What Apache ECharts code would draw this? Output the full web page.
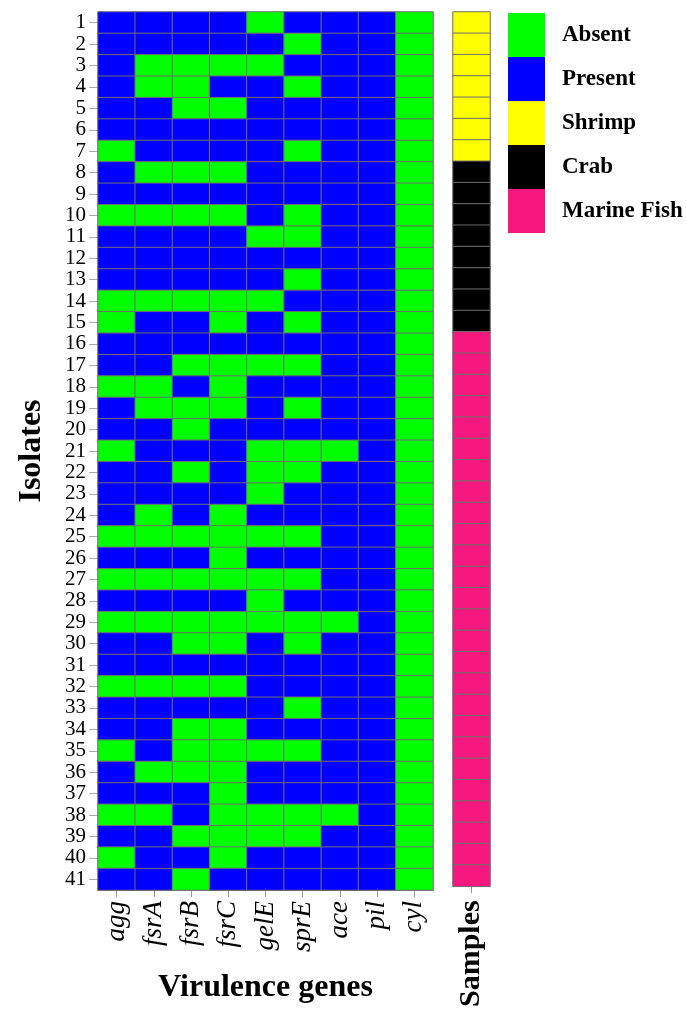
<!DOCTYPE html>
<html><head><meta charset="utf-8">
<script src="https://cdn.jsdelivr.net/npm/echarts@6/dist/echarts.min.js"></script>
<style>html,body{margin:0;padding:0;background:#fff}#c{width:687px;height:1010px}</style>
</head><body><div id="c"></div>
<script>
const genes = ['agg','fsrA','fsrB','fsrC','gelE','sprE','ace','pil','cyl'];
const isolates = ['1','2','3','4','5','6','7','8','9','10','11','12','13','14','15','16','17','18','19','20','21','22','23','24','25','26','27','28','29','30','31','32','33','34','35','36','37','38','39','40','41'];
// 1 = Present, 0 = Absent (isolates 1..41)
const agg  = [1,1,1,1,1,1,0,1,1,0,1,1,1,0,0,1,1,0,1,1,0,1,1,1,0,1,0,1,0,1,1,0,1,1,0,1,1,0,1,0,1];
const fsrA = [1,1,0,0,1,1,1,0,1,0,1,1,1,0,1,1,1,0,0,1,1,1,1,0,0,1,0,1,0,1,1,0,1,1,1,0,1,0,1,1,1];
const fsrB = [1,1,0,0,0,1,1,0,1,0,1,1,1,0,1,1,0,1,0,0,1,0,1,1,0,1,0,1,0,0,1,0,1,0,0,0,1,1,0,1,0];
const fsrC = [1,1,0,1,0,1,1,0,1,0,1,1,1,0,0,1,0,0,0,1,1,1,1,0,0,0,0,1,0,0,1,0,1,0,0,0,0,0,0,0,1];
const gelE = [0,1,0,1,1,1,1,1,1,1,0,1,1,0,1,1,0,1,1,1,0,0,0,1,0,1,0,0,0,1,1,1,1,1,0,1,1,0,0,1,1];
const sprE = [1,0,1,0,1,1,0,1,1,0,0,1,0,1,0,1,0,1,0,1,0,0,1,1,0,1,0,1,0,0,1,1,0,1,0,1,1,0,0,1,1];
const ace  = [1,1,1,1,1,1,1,1,1,1,1,1,1,1,1,1,1,1,1,1,0,1,1,1,1,1,1,1,0,1,1,1,1,1,1,1,1,0,1,1,1];
const pil  = [1,1,1,1,1,1,1,1,1,1,1,1,1,1,1,1,1,1,1,1,1,1,1,1,1,1,1,1,1,1,1,1,1,1,1,1,1,1,1,1,1];
const cyl  = [0,0,0,0,0,0,0,0,0,0,0,0,0,0,0,0,0,0,0,0,0,0,0,0,0,0,0,0,0,0,0,0,0,0,0,0,0,0,0,0,0];
const samples = ['Shrimp','Shrimp','Shrimp','Shrimp','Shrimp','Shrimp','Shrimp',
  'Crab','Crab','Crab','Crab','Crab','Crab','Crab','Crab',
  'Marine Fish','Marine Fish','Marine Fish','Marine Fish','Marine Fish','Marine Fish','Marine Fish','Marine Fish','Marine Fish','Marine Fish','Marine Fish','Marine Fish','Marine Fish','Marine Fish','Marine Fish','Marine Fish','Marine Fish','Marine Fish','Marine Fish','Marine Fish','Marine Fish','Marine Fish','Marine Fish','Marine Fish','Marine Fish','Marine Fish'];
const legendLabels = ['Absent','Present','Shrimp','Crab','Marine Fish'];
const legendColors = ['#00ff00','#0000ff','#ffff00','#000000','#f5197f'];

const geneCols = [agg,fsrA,fsrB,fsrC,gelE,sprE,ace,pil,cyl];
const geneData = [];
geneCols.forEach((col, gi) => col.forEach((v, ri) => geneData.push([gi, ri, v])));
const sampleCode = {'Shrimp':2,'Crab':3,'Marine Fish':4};
const sampleData = samples.map((s, ri) => [0, ri, sampleCode[s]]);

const FONT = 'Liberation Serif';
const chart = echarts.init(document.getElementById('c'), null, {renderer:'canvas'});
chart.setOption({
  animation: false,
  grid: [
    {left: 98, top: 12, width: 335, height: 878, containLabel: false},
    {left: 453, top: 12, width: 37, height: 878, containLabel: false}
  ],
  xAxis: [
    {type:'category', gridIndex:0, data: genes, position:'bottom',
     axisLine:{show:true, lineStyle:{color:'#888'}},
     axisTick:{show:true, alignWithLabel:true, length:7, lineStyle:{color:'#999'}},
     axisLabel:{rotate:90, interval:0, fontFamily:FONT, fontStyle:'italic', fontSize:27, color:'#000', margin:11},
     name:'Virulence genes', nameLocation:'middle', nameGap:82,
     nameTextStyle:{fontFamily:FONT, fontWeight:'bold', fontSize:32, color:'#000'}},
    {type:'category', gridIndex:1, data:['Samples'], position:'bottom',
     axisLine:{show:true, lineStyle:{color:'#888'}},
     axisTick:{show:true, alignWithLabel:true, length:7, lineStyle:{color:'#999'}},
     axisLabel:{rotate:90, interval:0, fontFamily:FONT, fontWeight:'bold', fontSize:30, color:'#000', margin:14}}
  ],
  yAxis: [
    {type:'category', gridIndex:0, data: isolates, inverse:true,
     axisLine:{show:true, lineStyle:{color:'#888'}},
     axisTick:{show:true, alignWithLabel:true, length:9, lineStyle:{color:'#aaa'}},
     axisLabel:{interval:0, fontFamily:FONT, fontSize:21, color:'#000', margin:12},
     name:'Isolates', nameLocation:'middle', nameGap:50, nameRotate:90,
     nameTextStyle:{fontFamily:FONT, fontWeight:'bold', fontSize:32, color:'#000'}},
    {type:'category', gridIndex:1, data: isolates, inverse:true,
     axisLine:{show:false}, axisTick:{show:false}, axisLabel:{show:false}}
  ],
  visualMap: {
    type:'piecewise', seriesIndex:[0,1], dimension:2,
    orient:'vertical', inverse:true, align:'left', left:508, top:13, padding:0,
    itemWidth:37, itemHeight:44, itemGap:0, itemSymbol:'rect', textGap:17,
    selectedMode:false, hoverLink:false,
    textStyle:{fontFamily:FONT, fontWeight:'bold', fontSize:23, color:'#000', padding:[6,0,0,0]},
    pieces: legendLabels.map((l, i) => ({value:i, label:l, color:legendColors[i]}))
  },
  series: [
    {type:'heatmap', xAxisIndex:0, yAxisIndex:0, data: geneData,
     itemStyle:{borderColor:'#6e6e6e', borderWidth:1}, emphasis:{disabled:true}},
    {type:'heatmap', xAxisIndex:1, yAxisIndex:1, data: sampleData,
     itemStyle:{borderColor:'#6e6e6e', borderWidth:1}, emphasis:{disabled:true}}
  ]
});
</script></body></html>
